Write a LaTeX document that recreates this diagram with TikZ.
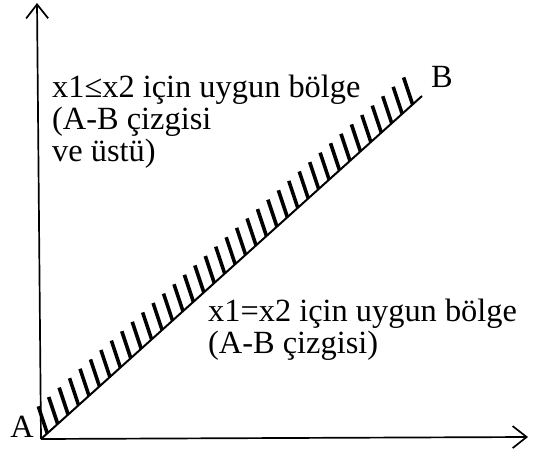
\documentclass[tikz,border=0pt]{standalone}
\usepackage{fontspec}
\setmainfont{Liberation Serif}
\usetikzlibrary{arrows.meta,calc}

\tikzset{
  axis/.style={line width=1.7pt,-{Straight Barb[length=14bp,width=22bp,line width=1.7pt]}},
  hatch/.style={line width=3.6pt},
  lbl/.style={inner sep=0pt,font=\fontsize{32.5}{32}\selectfont},
}

\begin{document}
\begin{tikzpicture}[x=1bp,y=-1bp]
    \useasboundingbox (0,0) rectangle (533,457);

    % Axes
    \coordinate (O) at (41,439);
    \coordinate (ytop) at (37,3);
    \coordinate (xend) at (528,437);
    \draw[axis] (O) -- (ytop);
    \draw[axis] (O) -- (xend);

    % A-B line
    \coordinate (B) at (422,96);
    \draw[line width=2pt] (O) -- (B);
    \foreach \i in {0,...,35}
        \draw[hatch] ($(O)!{(\i+0.6)/36.5}!(B)$) -- ++(-9,-27);

    \node[lbl,anchor=base east] (labA) at (34,437) {A};
    \node[lbl,anchor=base west] (labB) at (431,88) {B};

    % Regions
    \node[lbl,anchor=north west,align=left] (upper) at (52,75)
        {x1≤x2 için uygun bölge\\(A-B çizgisi\\ve üstü)};
    \node[lbl,anchor=north west,align=left] (lower) at (208,299)
        {x1=x2 için uygun bölge\\(A-B çizgisi)};
\end{tikzpicture}
\end{document}
